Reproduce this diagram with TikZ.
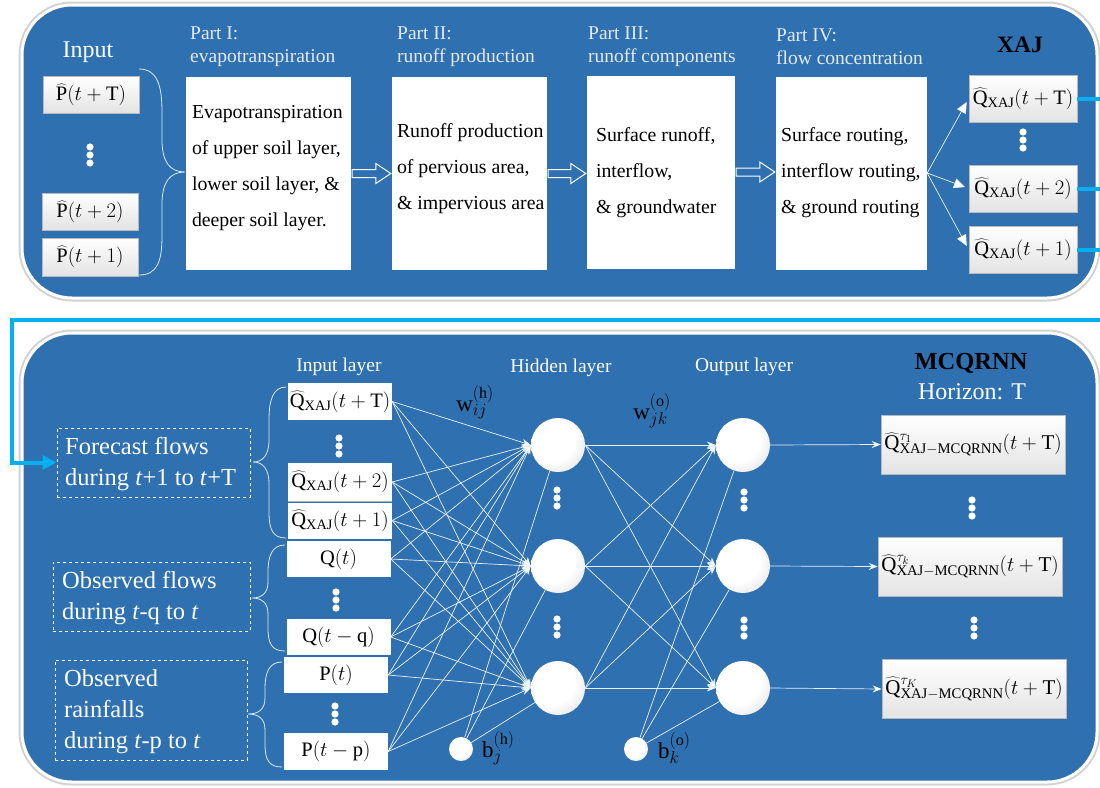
\documentclass[tikz,border=0pt]{standalone}
\usepackage{fontspec}
\setmainfont{Liberation Serif}
\usetikzlibrary{arrows.meta,calc}
\definecolor{panelblue}{RGB}{46,112,176}
\definecolor{flowcyan}{RGB}{0,176,240}
\definecolor{partlbl}{RGB}{228,234,244}
\pgfdeclareradialshading{softball}{\pgfpoint{-9bp}{9bp}}{color(0bp)=(white); color(22bp)=(white); color(38bp)=(white!88!black); color(52bp)=(white!72!black); color(70bp)=(white!65!black)}
\tikzset{
 panel/.style={draw=white, line width=3pt, fill=panelblue, rounded corners=50pt},
 panelshadow/.style={draw=gray!35, line width=7pt, rounded corners=50pt},
 bevelbox/.style={draw=gray!55, line width=0.6pt, top color=white, bottom color=gray!22, inner sep=0pt, font=\fontsize{20.5}{22}\selectfont},
 whitebox/.style={fill=white, inner sep=0pt, font=\fontsize{20.5}{22}\selectfont},
 partbox/.style={fill=white, inner sep=0pt},
 boxtext/.style={anchor=north west, align=left, inner sep=0pt, font=\fontsize{19.8}{36}\selectfont},
 partlabel/.style={anchor=west, align=left, inner sep=0pt, text=partlbl, font=\fontsize{19.5}{23}\selectfont},
 layerlabel/.style={text=white, inner sep=0pt, font=\fontsize{19.5}{21}\selectfont},
 neuron/.style={circle, inner sep=0pt, minimum size=54pt, shading=softball},
 biasnode/.style={circle, inner sep=0pt, minimum size=24pt, shading=softball},
 dashbox/.style={draw=white, dashed, line width=1pt, inner sep=0pt},
 dashtext/.style={text=white, align=left, anchor=west, inner sep=0pt, font=\fontsize{24.5}{31}\selectfont},
 netline/.style={draw=white!90!panelblue, line width=0.7pt},
 netarrow/.style={netline, -{Stealth[length=9pt,width=7pt,fill=white]}},
 flow/.style={draw=flowcyan, line width=4pt},
 bracel/.style={draw=white!85!panelblue, line width=0.8pt},
 mathlbl/.style={inner sep=0pt, font=\fontsize{23}{25}\selectfont},
 vdots/.pic={\foreach \d in {-8,0,8} \fill[white] (0,\d) circle (3.6pt);}
}
\newcommand{\hollowarrow}[2]{%
 \draw[white, line width=1pt, fill=panelblue, line join=miter] let \p1=(#1.east), \p2=(#2.west) in
 (\x1+1,\y1+4) -- (\x2-16,\y1+4) -- (\x2-16,\y1+10) -- (\x2-1,\y1) -- (\x2-16,\y1-10) -- (\x2-16,\y1-4) -- (\x1+1,\y1-4) -- cycle;}
\begin{document}
\begin{tikzpicture}[x=1pt, y=-1pt]
\useasboundingbox (0,0) rectangle (1100,787);
\fill[white] (0,0) rectangle (1100,787);
% panels
\draw[panelshadow] (22,5) rectangle (1097,298);
\draw[panel] (22,5) rectangle (1097,298);
\draw[panelshadow] (22,333) rectangle (1097,782);
\draw[panel] (22,333) rectangle (1097,782);

% ---------------- top panel (XAJ) ----------------
\node[text=white, inner sep=0pt, font=\fontsize{24}{26}\selectfont] (inlbl) at (88,52) {Input};
\node[bevelbox, minimum width=96pt, minimum height=37pt] (pT) at (91,94.5) {$\widehat{\mathrm{P}}(t+\mathrm{T})$};
\pic at (90,155) {vdots};
\node[bevelbox, minimum width=96pt, minimum height=37pt] (p2) at (90,211.5) {$\widehat{\mathrm{P}}(t+2)$};
\node[bevelbox, minimum width=96pt, minimum height=38pt] (p1) at (90,257) {$\widehat{\mathrm{P}}(t+1)$};
\draw[bracel] (139,69) .. controls (157,69) and (162,85) .. (162,112) -- (162,140) .. controls (162,162) and (170,172) .. (185,172)
  .. controls (170,172) and (162,182) .. (162,204) -- (162,236) .. controls (162,262) and (157,275) .. (139,275);

\node[partlabel] (l1) at (190,46.5) {Part I:\\evapotranspiration};
\node[partlabel] (l2) at (397,46.5) {Part II:\\runoff production};
\node[partlabel] (l3) at (588,46.5) {Part III:\\runoff components};
\node[partlabel] (l4) at (776,46.5) {Part IV:\\flow concentration};

\node[partbox, minimum width=165pt, minimum height=193pt] (b1) at (268.5,173.5) {};
\node[partbox, minimum width=155pt, minimum height=193pt] (b2) at (469.5,173.5) {};
\node[partbox, minimum width=148pt, minimum height=193pt] (b3) at (661,172) {};
\node[partbox, minimum width=151pt, minimum height=193pt] (b4) at (851.5,173) {};
\path (b1.north west) ++(6,28) node[boxtext] (t1) {Evapotranspiration\\of upper soil layer,\\lower soil layer, \&\\deeper soil layer.};
\path (b2.north west) ++(5,47) node[boxtext] (t2) {Runoff production\\of pervious area,\\\& impervious area};
\path (b3.north west) ++(9,52) node[boxtext] (t3) {Surface runoff,\\interflow,\\\& groundwater};
\path (b4.north west) ++(5,51) node[boxtext] (t4) {Surface routing,\\interflow routing,\\\& ground routing};
\hollowarrow{b1}{b2}
\hollowarrow{b2}{b3}
\hollowarrow{b3}{b4}

\node[inner sep=0pt, font=\bfseries\fontsize{23.5}{25}\selectfont] (xaj) at (1020,45) {XAJ};
\node[bevelbox, minimum width=108pt, minimum height=47pt] (xT) at (1023,98.5) {$\widehat{\mathrm{Q}}_{\mathrm{XAJ}}(t+\mathrm{T})$};
\pic at (1023,140) {vdots};
\node[bevelbox, minimum width=108pt, minimum height=47pt] (x2) at (1023,188.5) {$\widehat{\mathrm{Q}}_{\mathrm{XAJ}}(t+2)$};
\node[bevelbox, minimum width=108pt, minimum height=47pt] (x1) at (1023,249.5) {$\widehat{\mathrm{Q}}_{\mathrm{XAJ}}(t+1)$};
\foreach \t in {xT,x2,x1}
  \draw[netline, -{Triangle[length=11pt,width=10pt,fill=white]}, shorten >=4pt] (b4.east) -- (\t.west);

% cyan feed line
\coordinate (eT) at (1100,98.5);
\coordinate (e2) at (1100,188.5);
\coordinate (e1) at (1100,249.5);
\draw[flow] (xT.east) -- (eT);
\draw[flow] (x2.east) -- (e2);
\draw[flow] (x1.east) -- (e1);

% ---------------- bottom panel (MCQRNN) ----------------
\node[layerlabel] (ilbl) at (339,367) {Input layer};
\node[layerlabel] (hlbl) at (561,368) {Hidden layer};
\node[layerlabel] (olbl) at (744,367) {Output layer};
\node[inner sep=0pt, font=\bfseries\fontsize{24.5}{26}\selectfont] (mcq) at (971,363) {MCQRNN};
\node[inner sep=0pt, text=white, font=\fontsize{24}{26}\selectfont] (hor) at (972,392) {Horizon: T};

\node[whitebox, minimum width=104pt, minimum height=37pt] (i1) at (340,401.5) {$\widehat{\mathrm{Q}}_{\mathrm{XAJ}}(t+\mathrm{T})$};
\pic at (339,446) {vdots};
\node[whitebox, minimum width=104pt, minimum height=38pt] (i2) at (340,482) {$\widehat{\mathrm{Q}}_{\mathrm{XAJ}}(t+2)$};
\node[whitebox, minimum width=104pt, minimum height=36pt] (i3) at (340,520.5) {$\widehat{\mathrm{Q}}_{\mathrm{XAJ}}(t+1)$};
\draw[gray!60, line width=0.6pt] (i2.south west) -- (i2.south east);
\node[whitebox, minimum width=104pt, minimum height=36pt] (i4) at (338.5,559) {$\mathrm{Q}(t)$};
\pic at (336,600) {vdots};
\node[whitebox, minimum width=104pt, minimum height=36pt] (i5) at (338.5,637) {$\mathrm{Q}(t-\mathrm{q})$};
\node[whitebox, minimum width=104pt, minimum height=36pt] (i6) at (336,675) {$\mathrm{P}(t)$};
\pic at (335,714) {vdots};
\node[whitebox, minimum width=104pt, minimum height=37pt] (i7) at (336,751.5) {$\mathrm{P}(t-\mathrm{p})$};

% braces
\draw[bracel] (286,387) .. controls (273,387) and (269,400) .. (269,420) -- (269,440) .. controls (269,455) and (263,462) .. (253,462)
  .. controls (263,462) and (269,469) .. (269,484) -- (269,512) .. controls (269,530) and (273,538) .. (286,538);
\draw[bracel] (285,545) .. controls (272,545) and (268,556) .. (268,572) -- (268,582) .. controls (268,593) and (262,598) .. (252,598)
  .. controls (262,598) and (268,603) .. (268,614) -- (268,628) .. controls (268,644) and (272,651) .. (285,651);
\draw[bracel] (282,662) .. controls (269,662) and (265,673) .. (265,688) -- (265,698) .. controls (265,709) and (259,714) .. (248,714)
  .. controls (259,714) and (265,719) .. (265,730) -- (265,744) .. controls (265,760) and (269,767) .. (282,767);

% dashed descriptions
\node[dashbox, minimum width=193pt, minimum height=69pt] (d1) at (153.5,462.5) {};
\node[dashbox, minimum width=197pt, minimum height=69pt] (d2) at (151.5,596.5) {};
\node[dashbox, minimum width=192pt, minimum height=100pt] (d3) at (151,710) {};
\node[dashtext] (dt1) at (65,464) {Forecast flows\\during \textit{t}+1 to \textit{t}+T};
\node[dashtext] (dt2) at (62,598) {Observed flows\\during \textit{t}-q to \textit{t}};
\node[dashtext] (dt3) at (64,712) {Observed\\rainfalls\\during \textit{t}-p to \textit{t}};

% neurons
\node[neuron] (h1) at (558,445) {};
\node[neuron] (h2) at (558,566) {};
\node[neuron] (h3) at (558,688) {};
\node[neuron] (o1) at (743,445) {};
\node[neuron] (o2) at (743,566) {};
\node[neuron] (o3) at (743,688) {};
\pic at (557,498) {vdots};
\pic at (557,627) {vdots};
\pic at (744,500) {vdots};
\pic at (744,628) {vdots};
\node[biasnode] (bh) at (461,749) {};
\node[biasnode] (bo) at (636,749) {};
\node[mathlbl, anchor=west] (bhl) at (482,748) {$\mathrm{b}^{(\mathrm{h})}_{j}$};
\node[mathlbl, anchor=west] (bol) at (658,748) {$\mathrm{b}^{(\mathrm{o})}_{k}$};
\node[mathlbl] (wh) at (475,402) {$\mathrm{w}^{(\mathrm{h})}_{ij}$};
\node[mathlbl] (wo) at (652,411) {$\mathrm{w}^{(\mathrm{o})}_{jk}$};

% connections
\foreach \i in {i1,i2,i3,i4,i5,i6,i7}
  \foreach \h in {h1,h2,h3}
    \draw[netarrow] (\i.east) -- (\h.west);
\foreach \h in {h1,h2,h3}
  \draw[netline] (bh) -- (\h);
\foreach \h in {h1,h2,h3}
  \foreach \o in {o1,o2,o3}
    \draw[netarrow] (\h.east) -- (\o.west);
\foreach \o in {o1,o2,o3}
  \draw[netline] (bo) -- (\o);

% outputs
\node[bevelbox, minimum width=184pt, minimum height=59pt, font=\fontsize{21}{23}\selectfont] (q1) at (973,444.5) {$\widehat{\mathrm{Q}}^{\tau_1}_{\mathrm{XAJ-MCQRNN}}(t+\mathrm{T})$};
\pic at (972,508) {vdots};
\node[bevelbox, minimum width=184pt, minimum height=59pt, font=\fontsize{21}{23}\selectfont] (qk) at (970,566.5) {$\widehat{\mathrm{Q}}^{\tau_k}_{\mathrm{XAJ-MCQRNN}}(t+\mathrm{T})$};
\pic at (974,628) {vdots};
\node[bevelbox, minimum width=184pt, minimum height=59pt, font=\fontsize{21}{23}\selectfont] (qK) at (974,689) {$\widehat{\mathrm{Q}}^{\tau_K}_{\mathrm{XAJ-MCQRNN}}(t+\mathrm{T})$};
\draw[netarrow] (o1.east) -- (q1.west);
\draw[netarrow] (o2.east) -- (qk.west);
\draw[netarrow] (o3.east) -- (qK.west);

% cyan line into the forecast description
\coordinate (fr) at (1100,320);
\coordinate (fl) at (12,320);
\draw[flow, -{Triangle[length=14pt,width=14pt]}] (fr) -- (fl) |- (d1.west);
\end{tikzpicture}
\end{document}
